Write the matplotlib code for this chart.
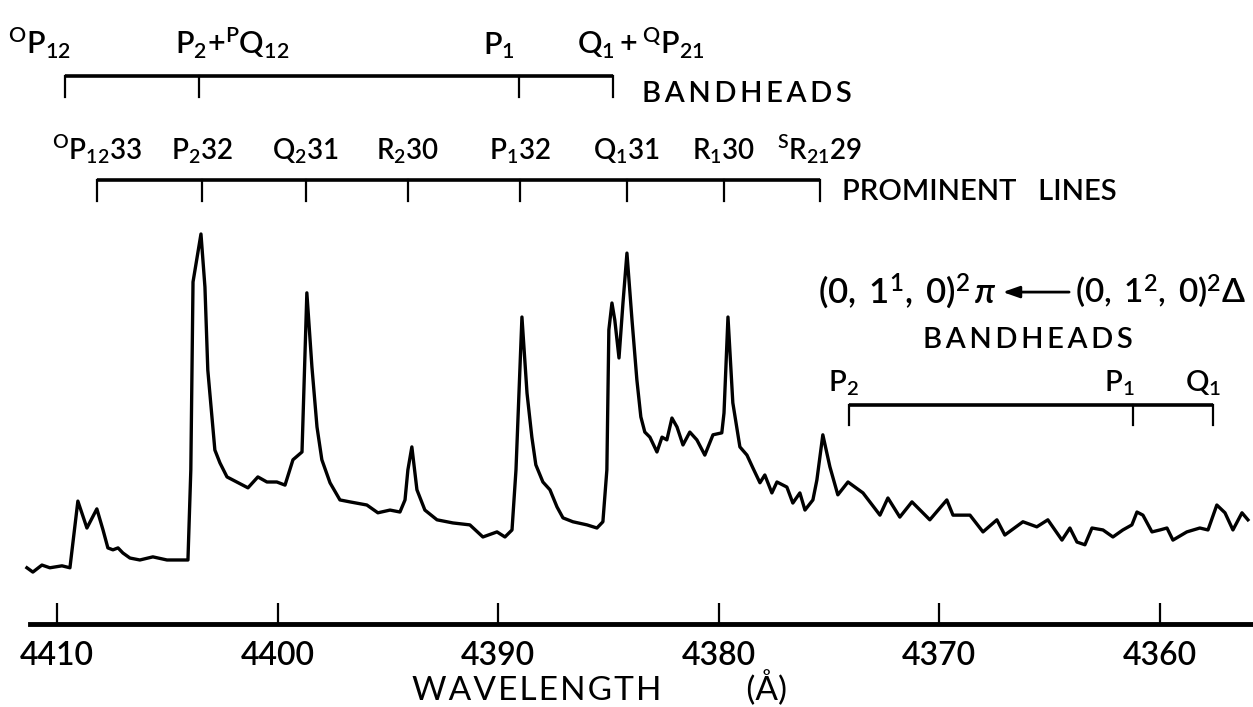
import numpy as np
import matplotlib
matplotlib.use("Agg")
import matplotlib.pyplot as plt

plt.rcParams['font.family'] = ['Lato', 'DejaVu Sans']
plt.rcParams['font.weight'] = 'semibold'
plt.rcParams['mathtext.fontset'] = 'custom'
plt.rcParams['mathtext.rm'] = 'Lato:semibold'
plt.rcParams['mathtext.it'] = 'Lato:italic:semibold'
plt.rcParams['mathtext.bf'] = 'Lato:bold'
plt.rcParams['mathtext.default'] = 'regular'

# spectrum (wavelength in A, relative intensity)
wavelength = [
    4411.36, 4411.09, 4410.68, 4410.32, 4409.77, 4409.41, 4409.05, 4408.64, 4408.19, 4407.91,
    4407.69, 4407.46, 4407.23, 4407.01, 4406.69, 4406.24, 4405.65, 4405.01, 4404.42, 4404.06,
    4403.93, 4403.83, 4403.47, 4403.29, 4403.16, 4402.97, 4402.84, 4402.61, 4402.29, 4402.02,
    4401.34, 4400.89, 4400.48, 4400.03, 4399.66, 4399.30, 4398.89, 4398.67, 4398.44, 4398.21,
    4397.99, 4397.62, 4397.17, 4396.72, 4395.95, 4395.45, 4394.90, 4394.45, 4394.22, 4394.09,
    4393.91, 4393.68, 4393.32, 4392.77, 4392.05, 4391.28, 4390.69, 4390.05, 4389.69, 4389.37,
    4389.19, 4388.92, 4388.69, 4388.47, 4388.29, 4387.97, 4387.65, 4387.33, 4387.06, 4386.61,
    4385.97, 4385.52, 4385.25, 4385.07, 4384.98, 4384.84, 4384.71, 4384.52, 4384.34, 4384.16,
    4383.93, 4383.71, 4383.53, 4383.35, 4383.12, 4382.80, 4382.57, 4382.35, 4382.12, 4381.89,
    4381.62, 4381.31, 4380.99, 4380.63, 4380.26, 4379.86, 4379.76, 4379.58, 4379.36, 4379.04,
    4378.72, 4378.45, 4378.13, 4377.91, 4377.59, 4377.36, 4376.91, 4376.64, 4376.32, 4376.09,
    4375.73, 4375.55, 4375.28, 4374.96, 4374.60, 4374.14, 4373.46, 4372.69, 4372.33, 4371.79,
    4371.24, 4370.43, 4369.66, 4369.38, 4368.61, 4368.02, 4367.39, 4367.03, 4366.21, 4365.58,
    4365.08, 4364.44, 4364.08, 4363.76, 4363.40, 4363.08, 4362.58, 4362.13, 4361.68, 4361.27,
    4361.04, 4360.77, 4360.36, 4360.00, 4359.68, 4359.41, 4358.78, 4358.19, 4357.82, 4357.42,
    4357.05, 4356.69, 4356.28, 4356.01,
]
intensity = [
    14.4, 13.3, 15.1, 14.4, 14.9, 14.4, 31.5, 24.6, 29.5, 24.1,
    19.5, 19.0, 19.5, 18.2, 16.9, 16.4, 17.2, 16.4, 16.4, 16.4,
    39.5, 87.7, 100.0, 86.4, 65.1, 53.1, 44.6, 41.3, 37.7, 36.9,
    34.9, 37.7, 36.4, 36.4, 35.6, 42.1, 44.1, 84.9, 65.9, 50.5,
    42.1, 36.2, 31.8, 31.3, 30.5, 28.5, 29.2, 28.7, 31.8, 39.5,
    45.4, 34.4, 29.2, 26.7, 25.9, 25.4, 22.3, 23.6, 22.3, 24.1,
    39.5, 78.7, 59.2, 47.9, 40.8, 36.4, 34.4, 30.0, 27.2, 26.2,
    25.4, 24.6, 26.2, 39.5, 75.4, 82.3, 77.9, 68.2, 82.3, 95.1,
    77.9, 62.6, 53.1, 49.2, 47.9, 44.1, 47.9, 47.2, 52.8, 50.5,
    45.9, 49.2, 47.2, 43.3, 48.5, 49.0, 54.1, 78.7, 56.7, 45.4,
    43.3, 40.0, 36.2, 38.2, 33.6, 36.4, 35.1, 31.0, 33.6, 29.2,
    31.8, 36.9, 48.5, 40.3, 33.1, 36.4, 33.6, 27.9, 32.3, 27.4,
    31.3, 26.7, 31.8, 27.9, 27.9, 23.6, 26.7, 22.8, 26.2, 24.9,
    26.7, 21.5, 24.6, 21.0, 20.3, 24.6, 24.1, 22.3, 24.1, 25.4,
    28.7, 27.9, 23.6, 24.1, 24.6, 21.5, 23.6, 24.6, 24.1, 30.5,
    28.5, 24.1, 28.5, 26.7,
]

xticks = [4410, 4400, 4390, 4380, 4370, 4360]

# main band: bandheads (upper bracket)
bandhead_wl = [4409.64, 4403.56, 4389.06, 4384.80]
bandhead_lbl = [r'${}^{O}P_{12}$', r'$P_2{+}{}^{P}Q_{12}$', r'$P_1$', r'$Q_1+{}^{Q}P_{21}$']

# prominent lines
line_wl = [4408.19, 4403.43, 4398.71, 4394.09, 4389.01, 4384.16, 4379.76, 4375.41]
line_lbl = [r'${}^{O}P_{12}33$', r'$P_232$', r'$Q_231$', r'$R_230$',
            r'$P_132$', r'$Q_131$', r'$R_130$', r'${}^{S}R_{21}29$']

# (0,1^1,0)2Pi <- (0,1^2,0)2Delta bandheads
hot_wl = [4374.10, 4361.22, 4357.60]
hot_lbl = [r'$P_2$', r'$P_1$', r'$Q_1$']

fig = plt.figure(figsize=(12.53, 7.07), dpi=100)
ax = fig.add_axes([0, 0, 1, 1])
ax.set_xlim(4412.58, 4355.78)
ax.set_ylim(-21.3, 160)

ax.plot(wavelength, intensity, color='black', lw=2.4, solid_joinstyle='round')

# bottom axis
for s in ['left', 'right', 'top']:
    ax.spines[s].set_visible(False)
ax.spines['bottom'].set_position(('data', 0))
ax.spines['bottom'].set_linewidth(3.5)
ax.spines['bottom'].set_bounds(4411.22, 4355.78)
ax.set_yticks([])
ax.set_xticks(xticks)
ax.tick_params(axis='x', direction='in', length=15, width=1.6, pad=12, labelsize=23)
ax.set_xlabel('W\u200aA\u200aV\u200aE\u200aL\u200aE\u200aN\u200aG\u200aT\u200aH          (Å)', fontsize=24)
ax.xaxis.set_label_coords(600 / 1253, 0.052)

spaced = '\u2009'.join('BANDHEADS')


def bracket(wls, y, drop, lw=2.6):
    ax.plot([wls[0], wls[-1]], [y, y], color='black', lw=lw, solid_capstyle='butt')
    for w in wls:
        ax.plot([w, w], [y, y - drop], color='black', lw=1.6)


# upper bracket: bandheads
bracket(bandhead_wl, 140.5, 5.3)
ax.text(4412.22, 146.2, bandhead_lbl[0], fontsize=22, ha='left', va='baseline')
ax.text(4404.65, 146.2, bandhead_lbl[1], fontsize=22, ha='left', va='baseline')
ax.text(4389.24, 146.2, bandhead_lbl[2], fontsize=22, ha='right', va='baseline')
ax.text(4386.43, 146.2, bandhead_lbl[3], fontsize=22, ha='left', va='baseline')
ax.text(4383.48, 133.8, spaced, fontsize=21, ha='left', va='baseline')

# prominent lines bracket
bracket(line_wl, 113.8, 5.3)
for w, t in zip(line_wl, line_lbl):
    ax.text(w, 119.0, t, fontsize=20, ha='center', va='baseline')
ax.text(4374.42, 108.7, 'PROMINENT   LINES', fontsize=21, ha='left', va='baseline')

# hot band annotation
ax.text(4368.61, 82.3, r'$(0,\;1^1,\;0)^2$', fontsize=25, ha='right', va='baseline')
ax.text(4367.93, 82.3, 'π', fontsize=25, style='italic', ha='center', va='baseline')
ax.annotate('', xy=(4367.25, 85.1), xytext=(4363.99, 85.1),
            arrowprops=dict(arrowstyle='-|>,head_length=1.0,head_width=0.35', color='black', lw=2))
ax.text(4363.85, 82.3, r'$(0,\;1^2,\;0)^2\Delta$', fontsize=24, ha='left', va='baseline')
ax.text(4366.0, 70.8, spaced, fontsize=21, ha='center', va='baseline')

bracket(hot_wl, 56.2, 5.2)
ax.text(4375.05, 59.5, hot_lbl[0], fontsize=21, ha='left', va='baseline')
ax.text(4361.13, 59.5, hot_lbl[1], fontsize=21, ha='right', va='baseline')
ax.text(4358.87, 59.5, hot_lbl[2], fontsize=21, ha='left', va='baseline')

fig.savefig('out.png', dpi=100)
